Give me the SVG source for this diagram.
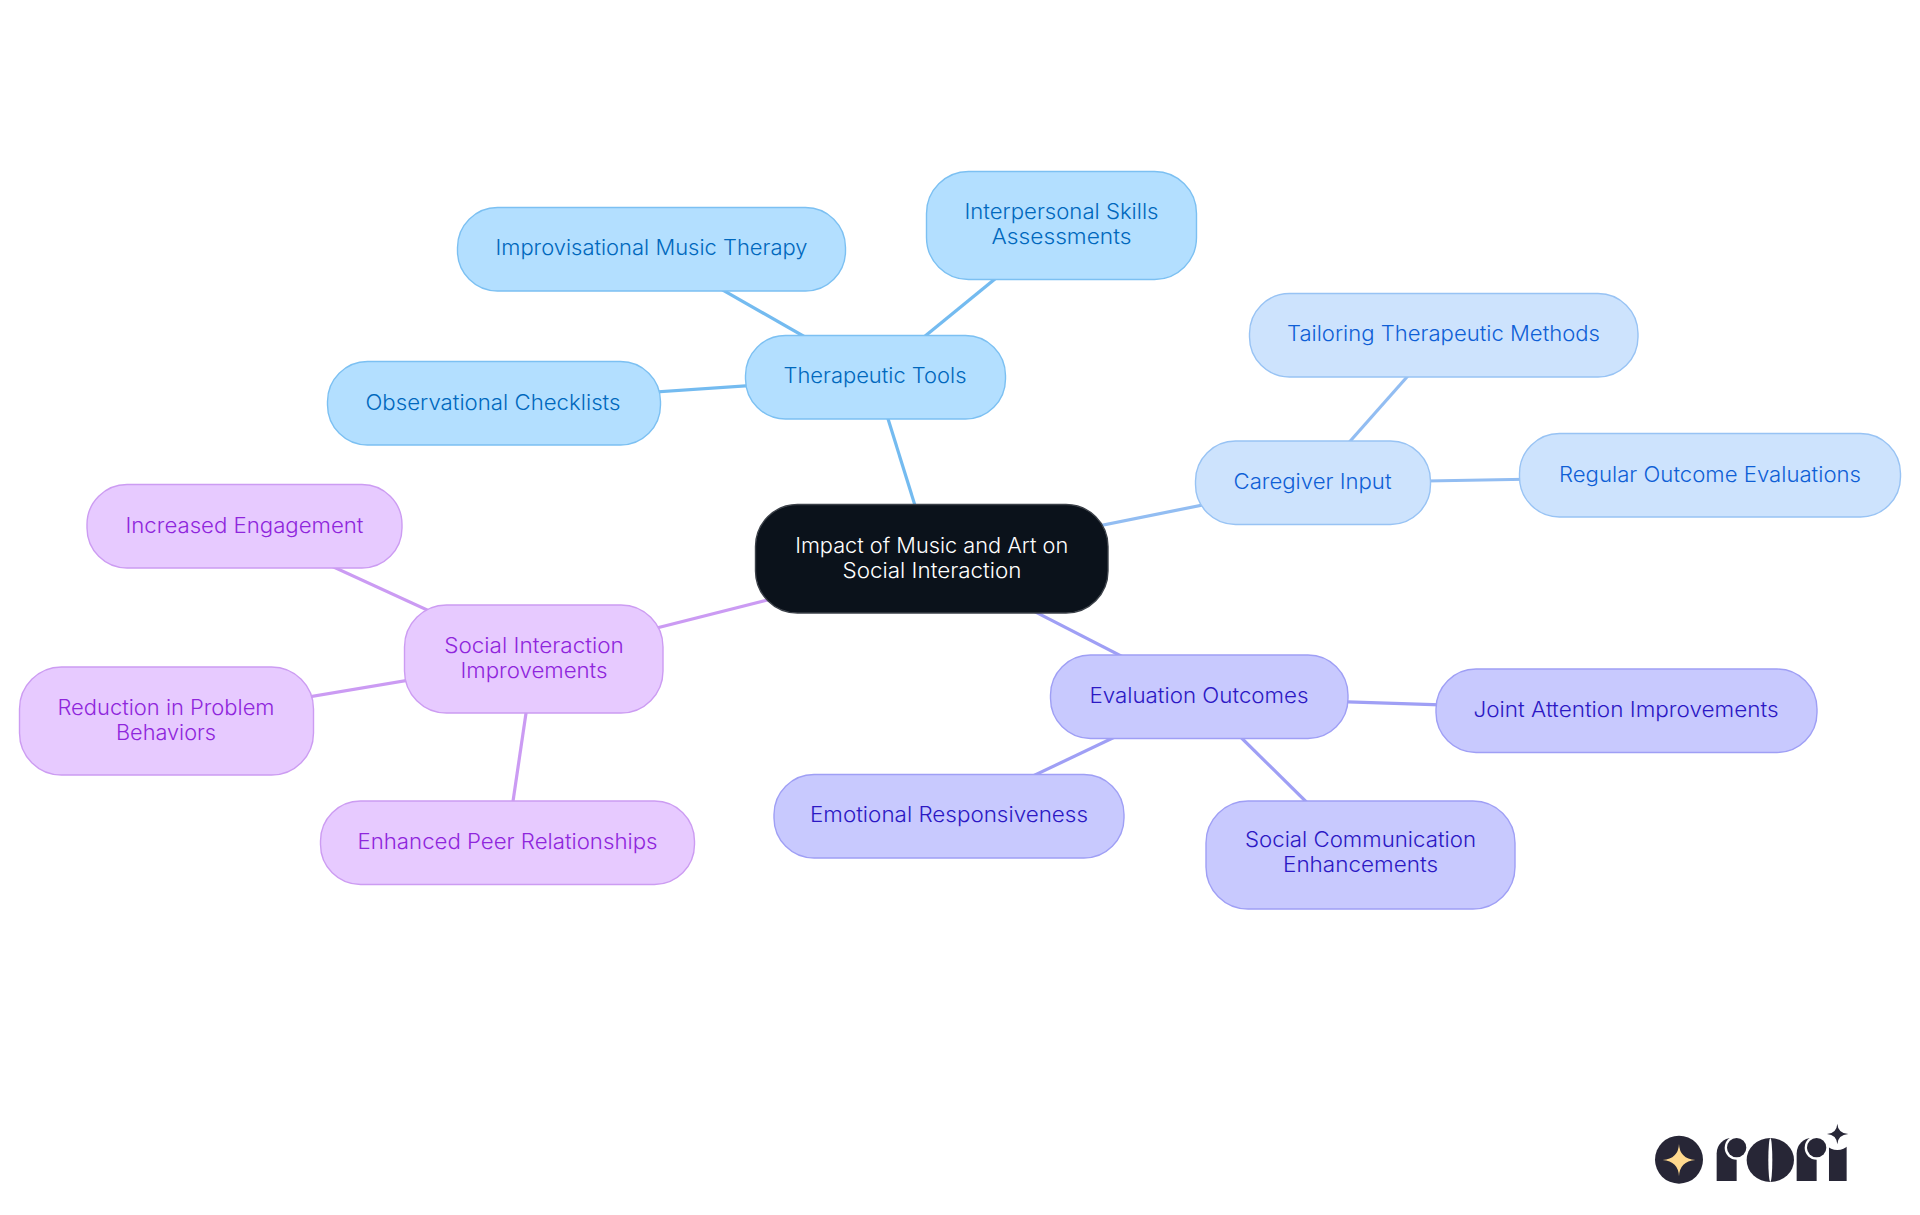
<svg xmlns="http://www.w3.org/2000/svg" width="1920" height="1215" viewBox="0 0 1920 1215">
<style>
text{font-family:"Inter","Noto Sans","Liberation Sans",sans-serif;font-size:21px;font-weight:350;text-anchor:middle}
.e{stroke-width:3.2;fill:none}
.n{stroke-width:1.4}
.tf{fill:#b3dfff;stroke:#7cc0f2}.tt{fill:#0068bd}.te{stroke:#74bbf0}
.cf{fill:#cde3fd;stroke:#98c3f4}.ct{fill:#0f5fd6}.ce{stroke:#92bdf2}
.vf{fill:#c8c9fe;stroke:#9f9ff5}.vt{fill:#2c18c4}.ve{stroke:#9f9ff5}
.pf{fill:#e7caff;stroke:#cc9cf2}.pt{fill:#8f26dc}.pe{stroke:#cb9bf3}
.dark{fill:#272636}
</style>
<g id="connectors">
<line class="e te" x1="931.5" y1="558.5" x2="875" y2="377"/>
<line class="e ce" x1="931.5" y1="559.5" x2="1312" y2="483"/>
<line class="e ve" x1="931.5" y1="558.5" x2="1199" y2="696"/>
<line class="e pe" x1="931.5" y1="558.5" x2="534" y2="659"/>
<line class="e te" x1="875" y1="377" x2="651" y2="249"/>
<line class="e te" x1="875" y1="377" x2="1061" y2="225"/>
<line class="e te" x1="875" y1="377" x2="493" y2="403"/>
<line class="e ce" x1="1314" y1="482" x2="1445" y2="334"/>
<line class="e ce" x1="1312" y1="483" x2="1710" y2="476"/>
<line class="e ve" x1="1199" y1="697" x2="1626" y2="711"/>
<line class="e ve" x1="1201" y1="696" x2="951" y2="815"/>
<line class="e ve" x1="1199" y1="696" x2="1360" y2="855"/>
<line class="e pe" x1="534" y1="659" x2="244" y2="526"/>
<line class="e pe" x1="534" y1="659" x2="166" y2="721"/>
<line class="e pe" x1="534" y1="659" x2="507" y2="842"/>
</g>
<g id="root"><rect x="755.5" y="504.5" width="352.5" height="108.5" rx="42" fill="#0b121b" stroke="#3b4048" stroke-width="1.4"/>
<text x="931.7" y="552.7" fill="#fff" textLength="273" lengthAdjust="spacingAndGlyphs">Impact of Music and Art on</text>
<text x="932" y="577.7" fill="#fff" textLength="179" lengthAdjust="spacingAndGlyphs">Social Interaction</text></g>
<g id="therapeutic-tools"><rect class="n tf" x="745.5" y="335.5" width="260" height="83.5" rx="40"/><text class="tt" x="875" y="382.5" textLength="183" lengthAdjust="spacingAndGlyphs">Therapeutic Tools</text></g>
<g id="improvisational"><rect class="n tf" x="457.5" y="207.5" width="388" height="83.5" rx="40"/><text class="tt" x="651.5" y="254.5" textLength="312" lengthAdjust="spacingAndGlyphs">Improvisational Music Therapy</text></g>
<g id="interpersonal"><rect class="n tf" x="926.5" y="171.5" width="270" height="108" rx="42"/><text class="tt" x="1061.5" y="219" textLength="194" lengthAdjust="spacingAndGlyphs">Interpersonal Skills</text><text class="tt" x="1061.5" y="244" textLength="140" lengthAdjust="spacingAndGlyphs">Assessments</text></g>
<g id="observational"><rect class="n tf" x="327.5" y="361.5" width="333" height="83.5" rx="40"/><text class="tt" x="493" y="409.5" textLength="255" lengthAdjust="spacingAndGlyphs">Observational Checklists</text></g>
<g id="caregiver-input"><rect class="n cf" x="1195.5" y="441" width="235" height="83.5" rx="40"/><text class="ct" x="1312.5" y="488.5" textLength="158" lengthAdjust="spacingAndGlyphs">Caregiver Input</text></g>
<g id="tailoring"><rect class="n cf" x="1249.5" y="293.5" width="388.5" height="83.5" rx="40"/><text class="ct" x="1443.5" y="340.5" textLength="313" lengthAdjust="spacingAndGlyphs">Tailoring Therapeutic Methods</text></g>
<g id="regular"><rect class="n cf" x="1519.5" y="433.5" width="381" height="83.5" rx="40"/><text class="ct" x="1710" y="481.5" textLength="302" lengthAdjust="spacingAndGlyphs">Regular Outcome Evaluations</text></g>
<g id="evaluation-outcomes"><rect class="n vf" x="1050.5" y="655" width="297.5" height="83.5" rx="40"/><text class="vt" x="1199" y="702.5" textLength="219" lengthAdjust="spacingAndGlyphs">Evaluation Outcomes</text></g>
<g id="joint"><rect class="n vf" x="1436" y="669" width="381" height="83.5" rx="40"/><text class="vt" x="1626" y="716.5" textLength="305" lengthAdjust="spacingAndGlyphs">Joint Attention Improvements</text></g>
<g id="emotional"><rect class="n vf" x="774" y="774.5" width="350" height="83.5" rx="40"/><text class="vt" x="949" y="821.5" textLength="278" lengthAdjust="spacingAndGlyphs">Emotional Responsiveness</text></g>
<g id="social-communication"><rect class="n vf" x="1206" y="801" width="309" height="108" rx="42"/><text class="vt" x="1360.5" y="847" textLength="231" lengthAdjust="spacingAndGlyphs">Social Communication</text><text class="vt" x="1360.5" y="872" textLength="155" lengthAdjust="spacingAndGlyphs">Enhancements</text></g>
<g id="social-interaction"><rect class="n pf" x="404.5" y="605" width="258.5" height="108" rx="42"/><text class="pt" x="534" y="653" textLength="179.5" lengthAdjust="spacingAndGlyphs">Social Interaction</text><text class="pt" x="534" y="678" textLength="147" lengthAdjust="spacingAndGlyphs">Improvements</text></g>
<g id="increased"><rect class="n pf" x="87" y="484.5" width="315" height="83.5" rx="40"/><text class="pt" x="244.5" y="532.5" textLength="238" lengthAdjust="spacingAndGlyphs">Increased Engagement</text></g>
<g id="reduction"><rect class="n pf" x="19.5" y="667" width="294" height="108" rx="42"/><text class="pt" x="166" y="715" textLength="217" lengthAdjust="spacingAndGlyphs">Reduction in Problem</text><text class="pt" x="166" y="740" textLength="100" lengthAdjust="spacingAndGlyphs">Behaviors</text></g>
<g id="enhanced"><rect class="n pf" x="320.5" y="801" width="374" height="83.5" rx="40"/><text class="pt" x="507.5" y="848.5" textLength="300" lengthAdjust="spacingAndGlyphs">Enhanced Peer Relationships</text></g>
<g id="logo" transform="translate(1620 1100) scale(.3333)">
<circle class="dark" cx="177" cy="179" r="72"/>
<path fill="#ffd98e" d="M177 132Q179 176 226 180Q179 184 177 229Q175 184 128 180Q175 176 177 132Z"/>
<path class="dark" d="M290 243V160A46 46 0 0 1 336 114L350 143V243Z"/>
<circle cx="350" cy="143" r="36" fill="#fff"/><circle class="dark" cx="350" cy="143" r="29"/>
<ellipse class="dark" cx="451" cy="180" rx="71" ry="66"/>
<ellipse cx="451" cy="180" rx="6" ry="66" fill="#fff"/>
<path class="dark" d="M530 243V160A46 46 0 0 1 576 114L590 143V243Z"/>
<circle cx="590" cy="143" r="36" fill="#fff"/>
<rect class="dark" x="627" y="136" width="53" height="107"/>
<circle cx="652" cy="102" r="48" fill="#fff"/>
<circle class="dark" cx="590" cy="143" r="29"/>
<path class="dark" d="M652 71Q654 100 685 102Q654 104 652 133Q650 104 621 102Q650 100 652 71Z"/>
</g>
</svg>
